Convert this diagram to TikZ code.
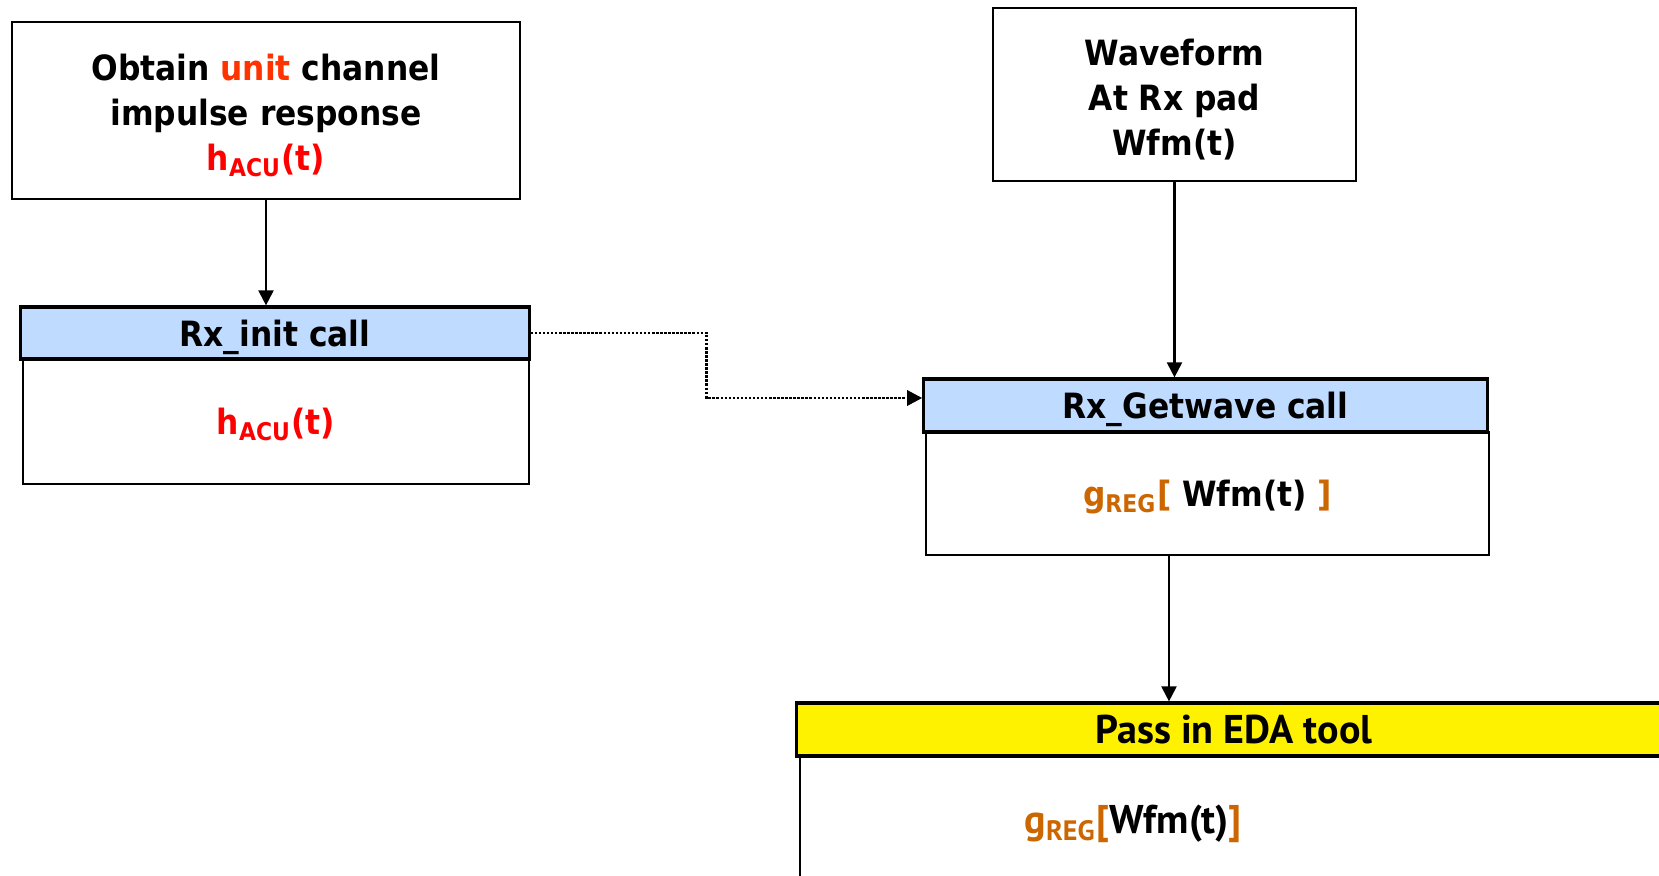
\documentclass[tikz,border=0pt]{standalone}
\usepackage{fontspec}
\setmainfont{DejaVu Sans Condensed}
\newfontfamily\edafont{PT Sans}
\usepackage{xcolor}
\usepackage{tikz}
\usetikzlibrary{arrows.meta}
\definecolor{hdrblue}{RGB}{191,219,255}
\definecolor{unitred}{RGB}{255,51,0}
\definecolor{regorange}{RGB}{204,102,0}

\begin{document}
\begin{tikzpicture}[x=0.01cm,y=-0.01cm,
		font=\fontsize{9.9}{12.8}\selectfont\bfseries,
		box/.style={draw,line width=0.6pt,align=center,inner sep=0pt},
		body/.style={box,text depth=0pt},
		hdr/.style={box,text depth=0pt,line width=0.9pt,fill=hdrblue},
		eda/.style={font=\edafont\fontsize{11.4}{13}\selectfont\bfseries},
		link/.style={line width=0.6pt,-{Triangle[length=0.15cm,width=0.15cm]}}]
	\clip (0,0) rectangle (1659,876);
	
	% left column
	\node[box,minimum width=5.08cm,minimum height=1.77cm] (obtain) at (266,110.5)
		{\rule{0pt}{10.5pt}Obtain \textcolor{unitred}{unit} channel\\impulse response\\\textcolor{red}{h\textsubscript{ACU}(t)}};
	\node[body,minimum width=5.06cm,minimum height=1.25cm] (initBody) at (276,421.5)
		{\textcolor{red}{h\textsubscript{ACU}(t)}};
	\node[hdr,minimum width=5.08cm,minimum height=0.52cm] (initHead) at (275,333) {Rx\_init call};
	
	% right column
	\node[box,minimum width=3.63cm,minimum height=1.73cm] (wave) at (1174.5,94.5)
		{\rule{0pt}{10.5pt}Waveform\\At Rx pad\\Wfm(t)};
	\node[body,minimum width=5.63cm,minimum height=1.23cm] (getBody) at (1207.5,493.5)
		{\textcolor{regorange}{g\textsubscript{REG}[} Wfm(t) \textcolor{regorange}{]}};
	\node[hdr,minimum width=5.63cm,minimum height=0.53cm] (getHead) at (1205.5,405.5) {Rx\_Getwave call};
	
	% bottom block (runs off the page)
	\node[box,minimum width=8.71cm,minimum height=1.44cm] (edaBody) at (1235.5,828) {};
	\node[hdr,eda,fill=yellow,minimum width=8.74cm,minimum height=0.53cm] (edaHead) at (1234,729.5) {Pass in EDA tool};
	\node[eda] (edaText) at (1133,824)
		{\textcolor{regorange}{g\textsubscript{REG}[}Wfm(t)\textcolor{regorange}{]}};
	
	\coordinate (tap) at (1169,555);
	
	% connectors
	\draw[link] (obtain.south) -- (obtain.south |- initHead.north);
	\draw[link] (wave.south) -- (wave.south |- getHead.north);
	\draw[link] (tap) -- (tap |- edaHead.north);
	\draw[link,line width=0.8pt,dash pattern=on 0.7pt off 0.45pt] (initHead.east) -- ++(176,0) |- ([yshift=0.075cm]getHead.west);
\end{tikzpicture}
\end{document}
